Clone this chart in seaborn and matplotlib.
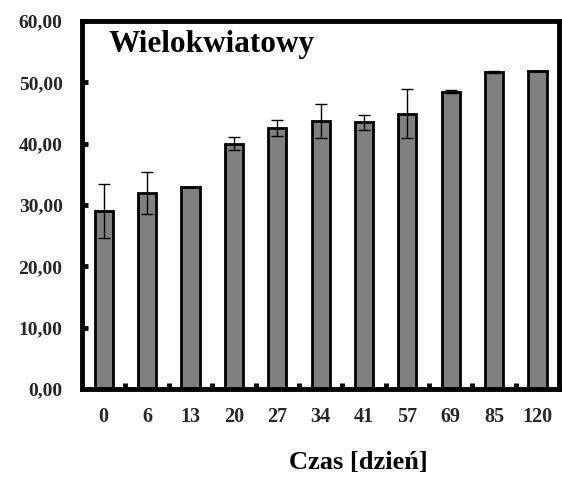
import matplotlib
matplotlib.use("Agg")
import matplotlib.pyplot as plt
import seaborn as sns
import pandas as pd
import numpy as np

categories = ["0", "6", "13", "20", "27", "34", "41", "57", "69", "85", "120"]
values = [29.1, 32.0, 33.0, 40.0, 42.6, 43.7, 43.5, 44.9, 48.5, 51.7, 51.8]
errors = [4.4, 3.4, 0.0, 1.1, 1.3, 2.7, 1.2, 4.0, 0.2, 0.2, 0.0]
ytick_values = [0, 10, 20, 30, 40, 50, 60]
ytick_labels = ["0,00", "10,00", "20,00", "30,00", "40,00", "50,00", "60,00"]
title_text = "Wielokwiatowy"
xlabel_text = "Czas [dzień]"

sns.set_theme(style="white")
plt.rcParams["font.family"] = ["Liberation Serif", "DejaVu Serif"]
plt.rcParams["font.weight"] = "bold"

df = pd.DataFrame({"Czas": categories, "Wartość": values})

fig = plt.figure(figsize=(5.62, 4.79), dpi=100)
ax = fig.add_axes([0.146, 0.188, 0.849, 0.768])

sns.barplot(data=df, x="Czas", y="Wartość", order=categories, color="#808080",
            saturation=1, width=0.42, edgecolor="black", linewidth=2.0,
            errorbar=None, ax=ax)
for p in ax.patches:
    p.set_facecolor("#808080")

xpos = np.arange(len(categories))
ax.errorbar(xpos, values, yerr=errors, fmt="none", ecolor="black",
            elinewidth=1.0, capsize=4.5, capthick=1.0, zorder=5)

ax.set_xlim(-0.5, len(categories) - 0.5)
ax.set_ylim(0, 60)
ax.set_yticks(ytick_values)
ax.set_yticklabels(ytick_labels, fontsize=14, fontweight="bold")
ax.set_xticks(xpos)
ax.set_xticklabels(categories, fontsize=14.5, fontweight="bold")
ax.set_xticks(np.arange(len(categories) - 1) + 0.5, minor=True)

ax.tick_params(axis="x", which="major", length=0, pad=13)
ax.tick_params(axis="x", which="minor", direction="in", length=4, width=3.5,
               color="black", bottom=True)
ax.tick_params(axis="y", which="major", direction="in", length=4, width=3.5,
               color="black", left=True, pad=14)

for s in ax.spines.values():
    s.set_visible(True)
    s.set_color("black")
    s.set_linewidth(3.5)

ax.set_xlabel("")
ax.set_ylabel("")
ax.text(0.055, 0.935, title_text, transform=ax.transAxes, fontsize=22.5,
        fontweight="bold", ha="left", va="center", color="black")
fig.text(358 / 562, 1 - 463 / 479, xlabel_text, fontsize=19, fontweight="bold",
         ha="center", va="center", color="black")

fig.savefig("out.png", dpi=100)
